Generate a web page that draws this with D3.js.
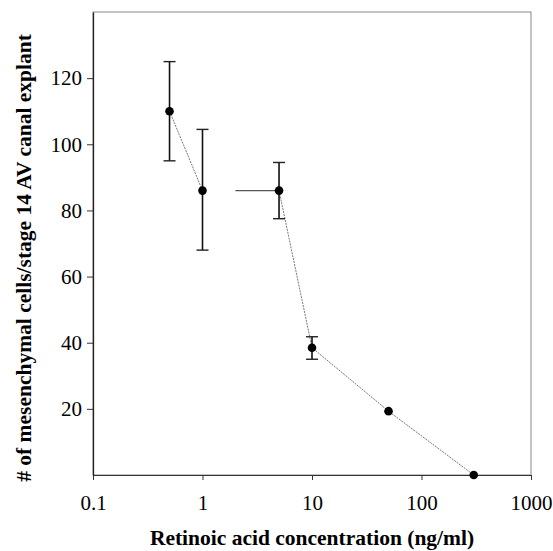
<!DOCTYPE html>
<html>
<head>
<meta charset="utf-8">
<script src="https://cdn.jsdelivr.net/npm/d3@7"></script>
<style>
  body { margin: 0; background: #fff; }
  text { font-family: "Liberation Serif", "Times New Roman", serif; }
</style>
</head>
<body>
<svg id="chart" width="553" height="551"></svg>
<script>
// Retinoic acid concentration (ng/ml)
const concentrations = [0.5, 1, 5, 10, 50, 300];
// mesenchymal cells per explant
const cellCounts = [110, 86, 86, 38.5, 19.3, 0];
const errLow = [95, 68, 77.5, 35, 18.6, 0];
const errHigh = [125, 104.5, 94.5, 41.8, 20, 0];
// horizontal error at 5 ng/ml and 50 ng/ml
const xErrLow = [null, null, 2, null, 46, null];
const xErrHigh = [null, null, 5, null, 54, null];
// connecting line broken between 1 and 5 ng/ml
const lineGroups = [[0, 1], [2, 3, 4, 5]];
const xTicks = [0.1, 1, 10, 100, 1000];
const yTicks = [20, 40, 60, 80, 100, 120];

const svg = d3.select('#chart');
const margin = { top: 12, right: 22, bottom: 76, left: 93 };
const width = 553, height = 551;

const x = d3.scaleLog().domain([0.1, 1000]).range([margin.left, width - margin.right]);
const y = d3.scaleLinear().domain([0, 140]).range([height - margin.bottom, margin.top]);

// frame
svg.append('rect')
  .attr('x', margin.left)
  .attr('y', margin.top)
  .attr('width', width - margin.right - margin.left)
  .attr('height', y(0) - margin.top)
  .attr('fill', 'none')
  .attr('stroke', '#888')
  .attr('stroke-width', 1);

// X axis
const xAxis = svg.append('g')
  .attr('transform', `translate(0,${y(0)})`)
  .call(d3.axisBottom(x).tickValues(xTicks).tickFormat(d => d).tickSize(5).tickSizeOuter(0));
xAxis.select('.domain').attr('stroke', '#333');
xAxis.selectAll('.tick line').attr('stroke', '#333');
xAxis.selectAll('text')
  .attr('font-size', '21px')
  .attr('fill', '#000')
  .attr('y', 35)
  .attr('dy', 0);

// Y axis
const yAxis = svg.append('g')
  .attr('transform', `translate(${margin.left},0)`)
  .call(d3.axisLeft(y).tickValues(yTicks).tickSize(6).tickSizeOuter(0));
yAxis.select('.domain').attr('stroke', '#222').attr('stroke-width', 1.3);
yAxis.selectAll('.tick line').attr('stroke', '#333');
yAxis.selectAll('text')
  .attr('font-size', '21px')
  .attr('fill', '#000')
  .attr('x', -11);

// connecting lines
const line = d3.line().x(i => x(concentrations[i])).y(i => y(cellCounts[i]));
svg.append('g')
  .selectAll('path')
  .data(lineGroups)
  .enter()
  .append('path')
  .attr('d', line)
  .attr('fill', 'none')
  .attr('stroke', '#777')
  .attr('stroke-width', 1)
  .attr('stroke-dasharray', '2,1');

// horizontal error bars
const hIdx = concentrations.map((d, i) => i).filter(i => xErrLow[i] !== null);
svg.append('g')
  .selectAll('line')
  .data(hIdx)
  .enter()
  .append('line')
  .attr('x1', i => x(xErrLow[i]))
  .attr('x2', i => x(xErrHigh[i]))
  .attr('y1', i => y(cellCounts[i]))
  .attr('y2', i => y(cellCounts[i]))
  .attr('stroke', '#555')
  .attr('stroke-width', 1.3);

// vertical error bars
const vIdx = concentrations.map((d, i) => i).filter(i => errHigh[i] - errLow[i] > 2);
const eb = svg.append('g');
eb.selectAll('line.stem')
  .data(vIdx)
  .enter()
  .append('line')
  .attr('class', 'stem')
  .attr('x1', i => x(concentrations[i]))
  .attr('x2', i => x(concentrations[i]))
  .attr('y1', i => y(errLow[i]))
  .attr('y2', i => y(errHigh[i]))
  .attr('stroke', '#111')
  .attr('stroke-width', 1.6);
['low', 'high'].forEach(k => {
  eb.selectAll(`line.cap-${k}`)
    .data(vIdx)
    .enter()
    .append('line')
    .attr('class', `cap-${k}`)
    .attr('x1', i => x(concentrations[i]) - 6)
    .attr('x2', i => x(concentrations[i]) + 6)
    .attr('y1', i => y(k === 'low' ? errLow[i] : errHigh[i]))
    .attr('y2', i => y(k === 'low' ? errLow[i] : errHigh[i]))
    .attr('stroke', '#222')
    .attr('stroke-width', 1.4);
});

// points
svg.append('g')
  .selectAll('circle')
  .data(concentrations)
  .enter()
  .append('circle')
  .attr('cx', d => x(d))
  .attr('cy', (d, i) => y(cellCounts[i]))
  .attr('r', 4.3)
  .attr('fill', '#000');

// axis titles
svg.append('text')
  .attr('x', (margin.left + width - margin.right) / 2)
  .attr('y', 545)
  .attr('text-anchor', 'middle')
  .attr('font-size', '21.5px')
  .attr('font-weight', 'bold')
  .text('Retinoic acid concentration (ng/ml)');

svg.append('text')
  .attr('transform', 'translate(31,258) rotate(-90)')
  .attr('text-anchor', 'middle')
  .attr('font-size', '21.5px')
  .attr('font-weight', 'bold')
  .text('# of mesenchymal cells/stage 14 AV canal explant');
</script>
</body>
</html>
